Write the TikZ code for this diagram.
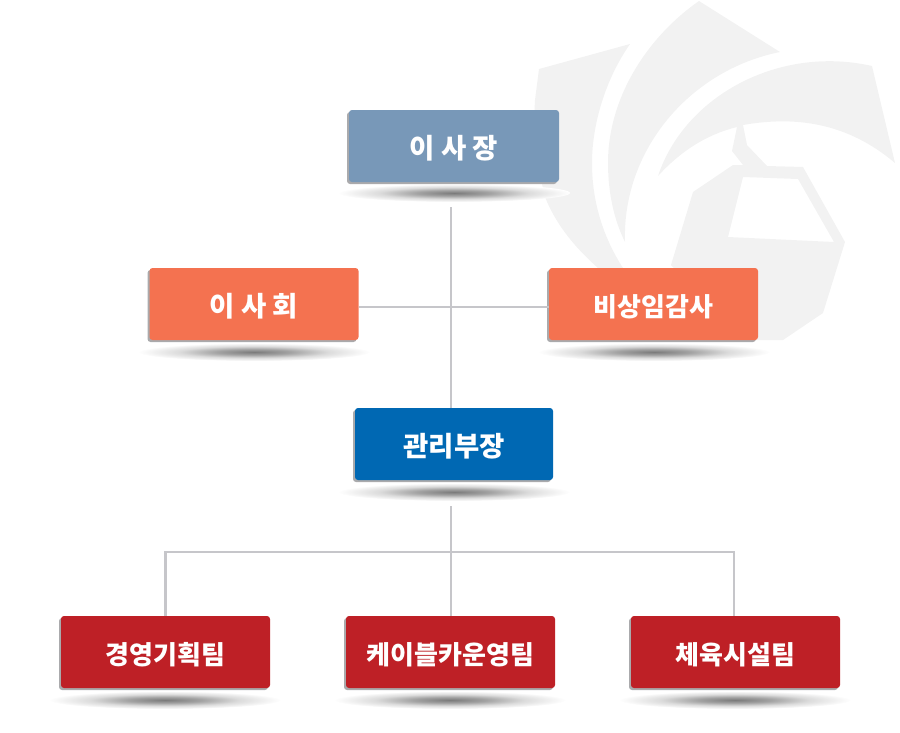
\documentclass[tikz,border=0pt]{standalone}
\usepackage{xcolor}
\usepackage{fontspec}
\setmainfont{Noto Sans CJK KR}
\usetikzlibrary{shadows, shapes.geometric}
\pgfdeclareradialshading{sombraBase}{\pgfpoint{0bp}{0bp}}{color(0bp)=(black!52); color(8bp)=(black!36); color(16bp)=(black!14); color(25bp)=(white); color(50bp)=(white)}

\begin{document}
\begin{tikzpicture}[x=1pt, y=-1pt,
    cargo/.style={rectangle, rounded corners=3pt, text=white, inner sep=0pt, minimum height=72pt,
      text height=25pt, text depth=0pt, font=\bfseries\fontsize{26}{30}\selectfont,
      general shadow={fill=bordeGris, shadow xshift=-2pt, shadow yshift=-2pt}},
    grande/.style={font=\bfseries\fontsize{27.5}{30}\selectfont},
    linea/.style={draw=lineaGris, line width=2.2pt},
    sombra/.style={ellipse, inner sep=0pt, minimum width=232pt, minimum height=18pt, shading=sombraBase}]
  \definecolor{logoGris}{RGB}{242,242,242}
  \definecolor{bordeGris}{RGB}{170,170,172}
  \definecolor{lineaGris}{RGB}{198,198,202}
  \definecolor{azulSuave}{RGB}{120,152,184}
  \definecolor{naranja}{RGB}{244,114,80}
  \definecolor{azulFuerte}{RGB}{0,104,179}
  \definecolor{rojoFuerte}{RGB}{190,32,38}

  \useasboundingbox (0,0) rectangle (900,732);

  % logo de fondo
  \fill[logoGris] (539,69) -- (630,44) .. controls (605,80) and (592,125) .. (592,163)
    .. controls (592,205) and (605,240) .. (623,268) -- (598,268)
    .. controls (572,245) and (555,222) .. (545,197)
    .. controls (538,170) and (533,130) .. (535,100) -- cycle;
  \fill[logoGris] (699,1) -- (780,52) .. controls (690,70) and (622,150) .. (625,242)
    .. controls (615,222) and (608,195) .. (608,163)
    .. controls (608,95) and (650,35) .. (699,1) -- cycle;
  \fill[logoGris, even odd rule] (658,176) .. controls (685,95) and (780,45) .. (872,66)
    -- (895,163) .. controls (850,125) and (800,115) .. (743,125)
    -- (747,145) -- (767,166) -- (803,167) -- (845,242) -- (823,313) -- (783,340)
    -- (740,340) -- (671,265) -- (693,192) -- (733,165) -- (743,165) -- (732,151) -- (737,127)
    .. controls (705,135) and (680,152) .. (658,176) -- cycle
    (743,177) -- (798,179) -- (834,242) -- (728,237) -- cycle;

  % sombras
  \node[sombra] (sChair) at (454,193) {};
  \node[sombra] (sBoard) at (254,352) {};
  \node[sombra] (sAudit) at (654,352) {};
  \node[sombra] (sManager) at (454,492) {};
  \node[sombra] (sPlan) at (165,700) {};
  \node[sombra] (sCable) at (450,700) {};
  \node[sombra] (sSport) at (735,700) {};

  \node[cargo, grande, fill=azulSuave, minimum width=210pt] (chair) at (454,146) {이 사 장};
  \node[cargo, grande, fill=naranja, minimum width=209pt] (board) at (254,304) {이 사 회};
  \node[cargo, fill=naranja, minimum width=209pt] (audit) at (653.5,304) {비상임감사};
  \node[cargo, grande, fill=azulFuerte, minimum width=198pt] (manager) at (454,444) {관리부장};
  \node[cargo, fill=rojoFuerte, minimum width=209pt] (plan) at (165.5,652) {경영기획팀};
  \node[cargo, fill=rojoFuerte, minimum width=209pt] (cable) at (450.5,652) {케이블카운영팀};
  \node[cargo, fill=rojoFuerte, minimum width=209pt] (sport) at (735.5,652) {체육시설팀};

  \coordinate (trunkTop) at (451,207);
  \coordinate (trunkLow) at (451,506);
  \coordinate (branch) at (451,552);
  \coordinate (dropRight) at (734,616);

  \draw[linea] (trunkTop) -- (trunkTop |- manager.north);
  \draw[linea] ([yshift=-3pt]board.east) -- ([yshift=-3pt]audit.west);
  \draw[linea] (trunkLow) -- (trunkLow |- cable.north);
  \draw[linea] (plan.north) -- (plan.north |- branch) -- (dropRight |- branch) -- (dropRight);
\end{tikzpicture}
\end{document}
